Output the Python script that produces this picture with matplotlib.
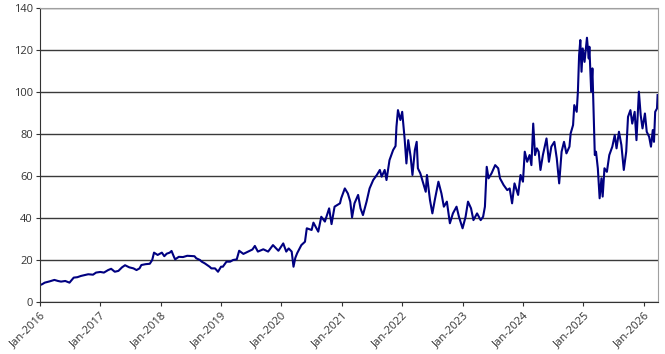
import numpy as np
import pandas as pd
import matplotlib
matplotlib.use("Agg")
import matplotlib.pyplot as plt
import matplotlib.dates as mdates

#price, x in decimal years
t = [
    2016.00, 2016.04, 2016.08, 2016.16, 2016.24, 2016.30, 2016.35, 2016.42, 2016.49, 2016.56,
    2016.62, 2016.68, 2016.74, 2016.80, 2016.88, 2016.93, 2017.00, 2017.06, 2017.13, 2017.18,
    2017.24, 2017.30, 2017.36, 2017.41, 2017.48, 2017.55, 2017.60, 2017.65, 2017.68, 2017.75,
    2017.82, 2017.86, 2017.89, 2017.95, 2018.02, 2018.06, 2018.10, 2018.15, 2018.18, 2018.22,
    2018.24, 2018.30, 2018.37, 2018.44, 2018.51, 2018.56, 2018.59, 2018.65, 2018.68, 2018.73,
    2018.77, 2018.81, 2018.84, 2018.90, 2018.95, 2019.00, 2019.03, 2019.09, 2019.15, 2019.20,
    2019.26, 2019.30, 2019.37, 2019.45, 2019.52, 2019.56, 2019.61, 2019.70, 2019.78, 2019.86,
    2019.95, 2020.03, 2020.08, 2020.12, 2020.17, 2020.20, 2020.23, 2020.26, 2020.33, 2020.39,
    2020.42, 2020.50, 2020.53, 2020.61, 2020.66, 2020.72, 2020.79, 2020.83, 2020.88, 2020.97,
    2020.99, 2021.05, 2021.10, 2021.14, 2021.17, 2021.21, 2021.27, 2021.31, 2021.35, 2021.41,
    2021.46, 2021.52, 2021.58, 2021.63, 2021.66, 2021.71, 2021.74, 2021.79, 2021.85, 2021.89,
    2021.905, 2021.93, 2021.97, 2022.00, 2022.04, 2022.07, 2022.10, 2022.14, 2022.17, 2022.21,
    2022.24, 2022.26, 2022.30, 2022.35, 2022.39, 2022.41, 2022.46, 2022.50, 2022.54, 2022.60,
    2022.65, 2022.69, 2022.74, 2022.79, 2022.84, 2022.90, 2022.94, 2023.00, 2023.05, 2023.09,
    2023.14, 2023.18, 2023.24, 2023.30, 2023.34, 2023.37, 2023.40, 2023.43, 2023.48, 2023.54,
    2023.59, 2023.62, 2023.68, 2023.74, 2023.78, 2023.82, 2023.86, 2023.92, 2023.96, 2024.00,
    2024.03, 2024.07, 2024.11, 2024.14, 2024.17, 2024.20, 2024.23, 2024.26, 2024.29, 2024.33,
    2024.39, 2024.43, 2024.47, 2024.52, 2024.56, 2024.60, 2024.64, 2024.68, 2024.72, 2024.77,
    2024.79, 2024.83, 2024.85, 2024.89, 2024.91, 2024.93, 2024.95, 2024.97, 2024.99, 2025.02,
    2025.06, 2025.09, 2025.10, 2025.13, 2025.15, 2025.17, 2025.19, 2025.21, 2025.24, 2025.27,
    2025.30, 2025.32, 2025.35, 2025.39, 2025.43, 2025.48, 2025.52, 2025.55, 2025.59, 2025.63,
    2025.67, 2025.71, 2025.74, 2025.78, 2025.81, 2025.85, 2025.88, 2025.92, 2025.95, 2025.98,
    2026.02, 2026.05, 2026.09, 2026.12, 2026.15, 2026.17, 2026.19, 2026.22, 2026.23,
]
price = [
    8.0, 8.5, 9.2, 9.8, 10.5, 10.0, 9.7, 10.0, 9.2, 11.6,
    11.8, 12.4, 12.8, 13.2, 13.0, 14.0, 14.3, 14.0, 15.2, 15.8,
    14.4, 14.8, 16.5, 17.5, 16.5, 16.0, 15.2, 16.0, 17.6, 18.0,
    18.2, 20.0, 23.5, 22.4, 23.5, 21.8, 23.0, 23.5, 24.3, 21.5,
    20.3, 21.5, 21.4, 22.0, 21.9, 21.8, 20.8, 20.0, 19.2, 18.4,
    17.6, 16.8, 16.0, 16.0, 14.4, 16.8, 16.8, 19.2, 19.2, 20.0,
    20.3, 24.4, 22.9, 24.0, 25.0, 26.7, 24.0, 25.1, 24.0, 27.1,
    24.4, 27.9, 24.0, 25.5, 24.0, 16.8, 21.0, 23.2, 27.1, 28.7,
    35.1, 34.3, 37.8, 33.5, 40.6, 38.3, 44.6, 37.1, 45.4, 47.0,
    49.4, 54.1, 51.7, 47.8, 40.3, 47.0, 51.0, 44.6, 41.4, 47.8,
    54.1, 58.1, 60.5, 62.9, 59.7, 62.9, 58.1, 67.6, 72.4, 74.3,
    83.5, 91.4, 86.7, 90.6, 77.9, 66.0, 77.1, 69.2, 60.5, 72.4,
    76.3, 63.7, 61.3, 56.5, 52.5, 60.5, 48.6, 42.2, 48.6, 57.3,
    51.7, 45.4, 47.8, 37.5, 42.2, 45.4, 40.6, 35.1, 40.6, 47.8,
    44.6, 39.0, 42.2, 39.0, 40.6, 45.4, 64.4, 58.9, 61.3, 65.2,
    63.7, 58.9, 55.7, 53.3, 54.1, 47.0, 56.5, 51.0, 60.5, 57.3,
    71.6, 66.8, 70.0, 65.2, 85.0, 70.0, 73.2, 71.6, 62.9, 70.0,
    77.9, 66.8, 74.0, 76.3, 68.4, 56.5, 71.6, 76.3, 70.8, 74.0,
    80.3, 84.3, 93.8, 90.6, 100.2, 117.6, 124.8, 109.7, 120.8, 114.4,
    125.9, 116.0, 121.6, 100.2, 111.3, 89.8, 70.0, 71.6, 63.7, 49.4,
    58.9, 50.2, 63.7, 62.0, 70.0, 74.0, 79.5, 73.2, 81.1, 74.8,
    62.9, 71.6, 88.2, 91.4, 85.0, 90.6, 77.1, 100.2, 89.0, 82.7,
    89.8, 81.1, 78.7, 74.0, 81.9, 76.3, 90.6, 92.2, 98.6,
]
years = list(range(2016, 2027))
y_ticks = [0, 20, 40, 60, 80, 100, 120, 140]

#decimal year -> timestamp
dates = [pd.Timestamp("2016-01-01") + pd.Timedelta(days=(v - 2016) * 365.25) for v in t]

plt.rcParams["font.family"] = ["Open Sans", "DejaVu Sans"]

fig = plt.figure(figsize=(6.65, 3.54), dpi=100)
ax = fig.add_axes([0.060, 0.147, 0.929, 0.830])

ax.plot(dates, price, color="#000080", lw=1.5, solid_joinstyle="round")

ax.set_ylim(0, 140)
ax.set_yticks(y_ticks)
ax.set_xlim(pd.Timestamp("2016-01-01"), pd.Timestamp("2026-03-26"))
ax.set_xticks([pd.Timestamp(f"{y}-01-01") for y in years])
ax.xaxis.set_major_formatter(mdates.DateFormatter("Jan-%Y"))

ax.grid(axis="y", color="#3a3a3a", lw=1.0)
ax.set_axisbelow(True)

for lab in ax.get_xticklabels():
    lab.set_rotation(45)
    lab.set_ha("right")
    lab.set_rotation_mode("anchor")

ax.tick_params(axis="both", labelsize=8, colors="#333333", length=3, width=0.8)
ax.tick_params(axis="x", pad=3)
ax.tick_params(axis="y", pad=2)

ax.spines["left"].set_color("#333333")
ax.spines["bottom"].set_color("#333333")
ax.spines["top"].set_color("#a0a0a0")
ax.spines["right"].set_color("#a0a0a0")

fig.savefig("out.png", dpi=100)
